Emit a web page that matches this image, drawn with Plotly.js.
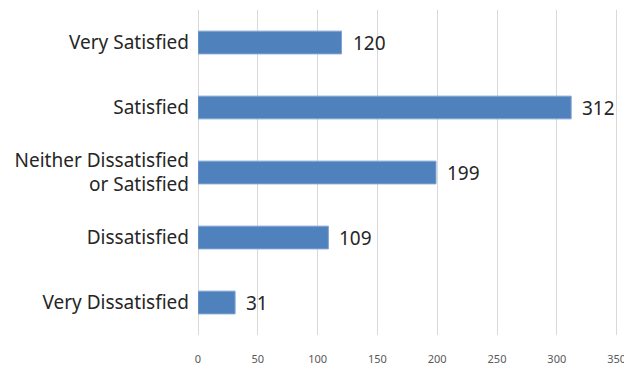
<!DOCTYPE html>
<html>
<head>
<meta charset="utf-8">
<script src="https://cdn.plot.ly/plotly-3.0.1.min.js"></script>
<style>html,body{margin:0;padding:0;background:#fff}#chart{width:624px;height:368px}</style>
</head>
<body>
<div id="chart"></div>
<script>
var categories = ["Very Satisfied", "Satisfied", "Neither Dissatisfied<br>or Satisfied", "Dissatisfied", "Very Dissatisfied"];
var counts = [120, 312, 199, 109, 31];
var tickValues = [0, 50, 100, 150, 200, 250, 300, 350];

var labelFont = 'Noto Sans, sans-serif';

var trace = {
  type: 'bar',
  orientation: 'h',
  y: categories,
  x: counts,
  width: 0.35,
  marker: {color: '#4F81BD', line: {color: '#7FA3D1', width: 1}},
  hoverinfo: 'none'
};

var annotations = counts.map(function (v, i) {
  return {
    x: v, y: categories[i], xref: 'x', yref: 'y',
    text: String(v), showarrow: false, xanchor: 'left', yanchor: 'middle',
    xshift: 9,
    font: {family: labelFont, size: 19, color: '#262626'}
  };
});

var layout = {
  width: 624, height: 368,
  margin: {l: 198, r: 5, t: 10, b: 33},
  paper_bgcolor: '#fff', plot_bgcolor: '#fff',
  showlegend: false,
  bargap: 0.65,
  xaxis: {
    range: [0, 352],
    tickvals: tickValues,
    ticktext: tickValues.map(String),
    showgrid: true, gridcolor: '#D9D9D9', gridwidth: 1,
    zeroline: true, zerolinecolor: '#D9D9D9', zerolinewidth: 1,
    showline: false, ticks: '',
    ticklabelstandoff: 16,
    ticklabeloverflow: 'allow',
    tickfont: {family: labelFont, size: 11, color: '#595959'},
    fixedrange: true
  },
  yaxis: {
    categoryorder: 'array', categoryarray: categories,
    autorange: 'reversed',
    showgrid: false, zeroline: false, showline: false, ticks: '',
    ticklabelstandoff: 8,
    tickfont: {family: labelFont, size: 19, color: '#262626'},
    fixedrange: true
  },
  annotations: annotations
};

Plotly.newPlot('chart', [trace], layout, {displayModeBar: false, staticPlot: true});
</script>
</body>
</html>
